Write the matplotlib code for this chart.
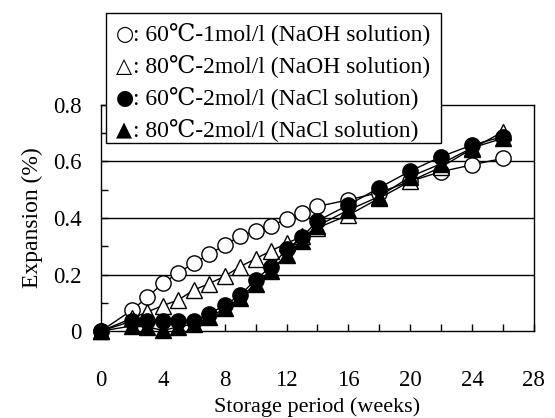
import matplotlib
matplotlib.use('Agg')
import matplotlib.pyplot as plt
from matplotlib.patches import Rectangle
from matplotlib.ticker import MultipleLocator

plt.rcParams['font.family'] = ['Liberation Serif', 'DejaVu Serif', 'DejaVu Sans']

# Daten
weeks = [0, 2, 3, 4, 5, 6, 7, 8, 9, 10, 11, 12, 13, 14, 16, 18, 20, 22, 24, 26]
naoh_60_1 = [0, 0.074, 0.12, 0.169, 0.206, 0.24, 0.272, 0.304, 0.336, 0.355,
             0.372, 0.396, 0.416, 0.441, 0.464, 0.49, 0.53, 0.564, 0.588, 0.611]
naoh_80_2 = [0, 0.045, 0.068, 0.09, 0.11, 0.145, 0.168, 0.194, 0.228, 0.256,
             0.284, 0.31, 0.335, 0.365, 0.41, 0.47, 0.53, 0.58, 0.645, 0.705]
nacl_60_2 = [0, 0.035, 0.035, 0.035, 0.035, 0.035, 0.06, 0.092, 0.127, 0.182,
             0.228, 0.289, 0.332, 0.39, 0.446, 0.507, 0.566, 0.617, 0.658, 0.688]
nacl_80_2 = [0, 0.018, 0.015, 0.002, 0.015, 0.025, 0.048, 0.08, 0.118, 0.168,
             0.214, 0.27, 0.32, 0.372, 0.428, 0.476, 0.546, 0.592, 0.648, 0.682]

legend_symbols = ['○', '△', '●', '▲']
legend_labels = [': 60℃-1mol/l (NaOH solution)',
                 ': 80℃-2mol/l (NaOH solution)',
                 ': 60℃-2mol/l (NaCl solution)',
                 ': 80℃-2mol/l (NaCl solution)']

fig = plt.figure(figsize=(5.55, 4.18), dpi=100)
ax = fig.add_axes([0.182, 0.208, 0.78, 0.541])

ax.plot(weeks, naoh_60_1, '-o', color='black', lw=1, ms=11, mfc='white', mec='black', clip_on=False, zorder=3)
ax.plot(weeks, naoh_80_2, '-^', color='black', lw=1, ms=11.5, mfc='white', mec='black', clip_on=False, zorder=4)
ax.plot(weeks, nacl_60_2, '-o', color='black', lw=1, ms=11, mfc='black', mec='black', clip_on=False, zorder=5)
ax.plot(weeks, nacl_80_2, '-^', color='black', lw=1, ms=11.5, mfc='black', mec='black', clip_on=False, zorder=6)

ax.set_xlim(0, 28)
ax.set_ylim(0, 0.8)
ax.xaxis.set_major_locator(MultipleLocator(4))
ax.xaxis.set_minor_locator(MultipleLocator(2))
ax.yaxis.set_minor_locator(MultipleLocator(0.1))
ax.set_yticks([0, 0.2, 0.4, 0.6, 0.8])
ax.set_yticklabels(['0', '0.2', '0.4', '0.6', '0.8'])
ax.tick_params(axis='both', which='both', direction='in', length=5, width=1, labelsize=16.5)
ax.tick_params(axis='x', which='both', pad=28)
ax.tick_params(axis='y', which='both', pad=14)
for v in [0.2, 0.4, 0.6]:
    ax.axhline(v, color='black', lw=1, zorder=1)
for s in ax.spines.values():
    s.set_linewidth(1)

ax.set_xlabel('Storage period (weeks)', fontsize=16, va='bottom')
ax.set_ylabel('Expansion (%)', fontsize=17)
ax.xaxis.set_label_coords(0.5, -0.378)
ax.yaxis.set_label_coords(-0.135, 0.5)

# Legende als Textkasten
W, H = 555, 418
fig.patches.append(Rectangle((106 / W, 1 - 143 / H), 335 / W, 130 / H,
                             transform=fig.transFigure, facecolor='white',
                             edgecolor='black', lw=1, zorder=10))
for i in range(4):
    y = 1 - (34 + 32 * i) / H
    fig.text(116 / W, y, legend_symbols[i], fontsize=15, family='DejaVu Sans',
             va='center', ha='left', zorder=11)
    fig.text(133 / W, y, legend_labels[i], fontsize=17,
             va='center', ha='left', zorder=11)

fig.savefig('out.png', dpi=100)
